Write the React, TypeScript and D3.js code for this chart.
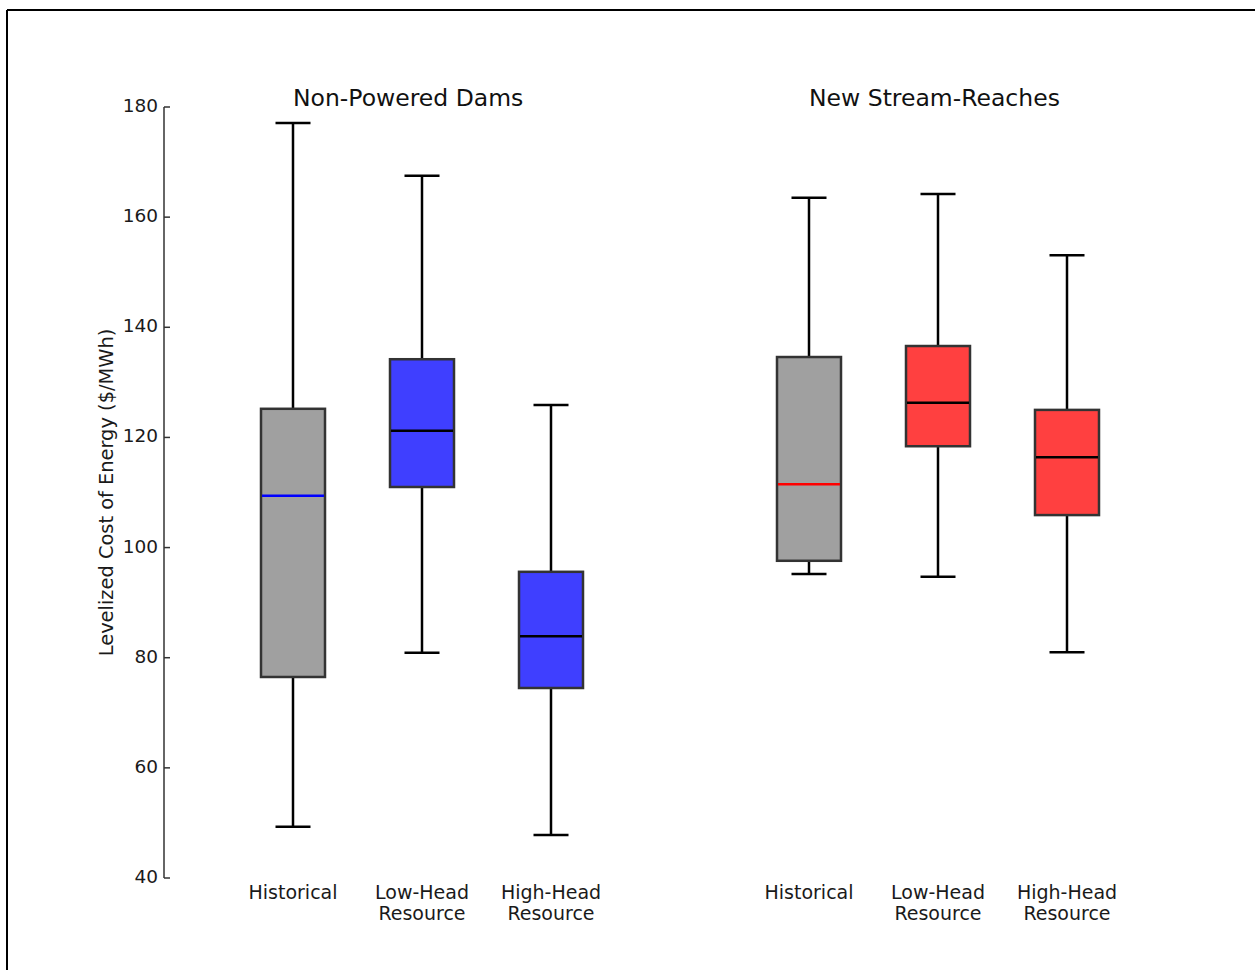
import React from "react";
import * as d3 from "d3";

const categories = ["Historical", "Low-Head\nResource", "High-Head\nResource", "Historical", "Low-Head\nResource", "High-Head\nResource"];
const positions = [1, 2, 3, 5, 6, 7];
const whiskerLow = [49.3, 80.9, 47.8, 95.2, 94.7, 81.0];
const q1 = [76.5, 111.0, 74.5, 97.6, 118.4, 105.9];
const medians = [109.4, 121.2, 83.9, 111.5, 126.3, 116.4];
const q3 = [125.2, 134.2, 95.6, 134.6, 136.6, 125.0];
const whiskerHigh = [177.1, 167.5, 125.9, 163.5, 164.2, 153.1];
const fills = ["#a0a0a0", "#3f3fff", "#3f3fff", "#a0a0a0", "#ff4040", "#ff4040"];
const medianColors = ["#0000ff", "#000000", "#000000", "#ff0000", "#000000", "#000000"];
const groupTitles = ["Non-Powered Dams", "New Stream-Reaches"];
const groupTitlePos = [1, 5];
const yTicks = [40, 60, 80, 100, 120, 140, 160, 180];
const yLabel = "Levelized Cost of Energy ($/MWh)";

export default function App() {
  const W = 1255, H = 970;
  const y = d3.scaleLinear().domain([40, 180]).range([878, 107]);
  const x = d3.scaleLinear().domain([0, 1]).range([164, 293]);
  const boxW = 64, capW = 35;
  const font = "DejaVu Sans, sans-serif";
  return (
    <svg width={W} height={H} style={{ position: "absolute", left: 0, top: 0, background: "#fff" }} fontFamily={font}>
      <rect x={0} y={0} width={W} height={H} fill="#fff" />
      <line x1={7} y1={10} x2={W} y2={10} stroke="#000" strokeWidth={2} />
      <line x1={7} y1={10} x2={7} y2={H} stroke="#000" strokeWidth={2} />
      {/* y axis */}
      <line x1={164} y1={y(180)} x2={164} y2={y(40)} stroke="#333" strokeWidth={1.5} />
      {yTicks.map((t) => (
        <g key={t}>
          <line x1={164} x2={170} y1={y(t)} y2={y(t)} stroke="#333" strokeWidth={1.5} />
          <text x={158} y={y(t) + 5} textAnchor="end" fontSize={18.5} fill="#1a1a1a">{t}</text>
        </g>
      ))}
      <text transform={`translate(113,${(y(40) + y(180)) / 2}) rotate(-90)`} textAnchor="middle" fontSize={19.4} fill="#1a1a1a">{yLabel}</text>
      {groupTitles.map((t, i) => (
        <text key={t} x={x(groupTitlePos[i])} y={106} fontSize={23.5} fill="#111">{t}</text>
      ))}
      {positions.map((p, i) => {
        const cx = x(p);
        return (
          <g key={i}>
            <line x1={cx} x2={cx} y1={y(q3[i])} y2={y(whiskerHigh[i])} stroke="#000" strokeWidth={2.5} />
            <line x1={cx} x2={cx} y1={y(q1[i])} y2={y(whiskerLow[i])} stroke="#000" strokeWidth={2.5} />
            <line x1={cx - capW / 2} x2={cx + capW / 2} y1={y(whiskerHigh[i])} y2={y(whiskerHigh[i])} stroke="#000" strokeWidth={2.5} />
            <line x1={cx - capW / 2} x2={cx + capW / 2} y1={y(whiskerLow[i])} y2={y(whiskerLow[i])} stroke="#000" strokeWidth={2.5} />
            <rect x={cx - boxW / 2} y={y(q3[i])} width={boxW} height={y(q1[i]) - y(q3[i])} fill={fills[i]} stroke="#333" strokeWidth={2.5} />
            <line x1={cx - boxW / 2 + 1} x2={cx + boxW / 2 - 1} y1={y(medians[i])} y2={y(medians[i])} stroke={medianColors[i]} strokeWidth={2.5} />
            {categories[i].split("\n").map((ln, j) => (
              <text key={j} x={cx} y={899 + j * 21} textAnchor="middle" fontSize={19} fill="#1a1a1a">{ln}</text>
            ))}
          </g>
        );
      })}
    </svg>
  );
}
